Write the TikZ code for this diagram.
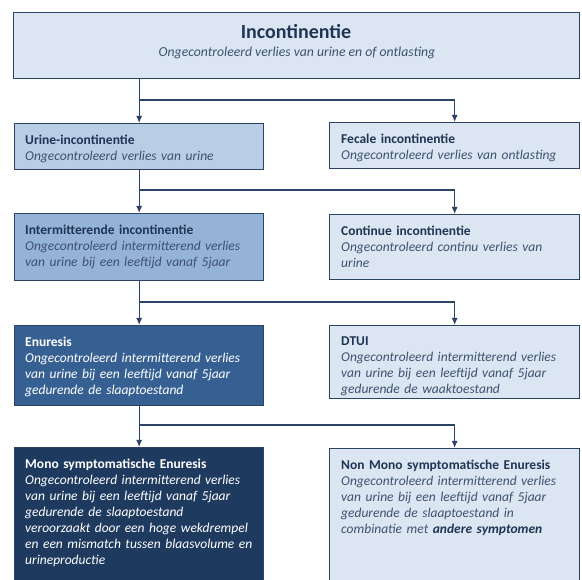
\documentclass[tikz,border=0pt]{standalone}
\usepackage{fontspec}
\setmainfont{Carlito}
\usetikzlibrary{arrows.meta}

\definecolor{boxline}{HTML}{2B4466}
\definecolor{pale}{HTML}{DCE6F2}
\definecolor{light}{HTML}{B9CDE5}
\definecolor{mid}{HTML}{95B3D7}
\definecolor{deep}{HTML}{376092}
\definecolor{night}{HTML}{1F3A5F}
\definecolor{inktitle}{HTML}{1F3555}
\definecolor{inkbody}{HTML}{3E5270}
\colorlet{headc}{inktitle}

\newcommand{\entry}[2]{{\bfseries\color{headc}#1}\\{\itshape #2}}

\tikzset{
  box/.style={draw=boxline, line width=1.3pt, anchor=north west, inner sep=0pt},
  txt/.style={anchor=north west, align=left, text width=#1, inner sep=0pt,
    text=inkbody, font=\fontsize{13.5}{16}\selectfont},
  dark txt/.style={txt=#1, text=white, execute at begin node={\colorlet{headc}{white}}},
  conn/.style={draw=boxline, line width=1.1pt, -{Latex[length=7pt,width=6pt]}},
}

\begin{document}
\begin{tikzpicture}[x=1pt,y=1pt]
  \useasboundingbox (0,0) rectangle (582,-580);

  % boxes
  \node[box, fill=pale, minimum width=566pt, minimum height=66pt] (top) at (13,-12) {};
  \node[box, fill=light, minimum width=249pt, minimum height=46pt] (urine) at (14,-123) {};
  \node[box, fill=pale, minimum width=250pt, minimum height=46pt] (fecale) at (329,-122) {};
  \node[box, fill=mid, minimum width=249pt, minimum height=67pt] (inter) at (14,-213) {};
  \node[box, fill=pale, minimum width=250pt, minimum height=65pt] (cont) at (329,-214) {};
  \node[box, fill=deep, minimum width=249pt, minimum height=80pt] (enur) at (14,-325) {};
  \node[box, fill=pale, minimum width=250pt, minimum height=73pt] (dtui) at (329,-325) {};
  \node[box, fill=night, minimum width=249pt, minimum height=140pt] (mono) at (14,-447) {};
  \node[box, fill=pale, minimum width=250pt, minimum height=140pt] (nonmono) at (329,-448) {};

  % branch heights
  \coordinate (s1) at (0,-100);
  \coordinate (s2) at (0,-190);
  \coordinate (s3) at (0,-302);
  \coordinate (s4) at (0,-425);

  \draw[conn] (top.south -| urine.north) -- (urine.north);
  \draw[conn] (s1 -| urine.north) -| (fecale.north);
  \draw[conn] (urine.south) -- (inter.north);
  \draw[conn] (s2 -| urine.north) -| (cont.north);
  \draw[conn] (inter.south) -- (enur.north);
  \draw[conn] (s3 -| urine.north) -| (dtui.north);
  \draw[conn] (enur.south) -- (mono.north);
  \draw[conn] (s4 -| urine.north) -| (nonmono.north);

  % texts
  \node[text=inktitle, font=\fontsize{20}{24}\selectfont\bfseries] (toptitle) at (296,-32) {Incontinentie};
  \node[text=inkbody, font=\fontsize{13.7}{16}\selectfont\itshape] (topsub) at (297,-53) {Ongecontroleerd verlies van urine en of ontlasting};

  \node[txt=240pt] (urinetxt) at ([shift={(11,-12)}]urine.north west)
    {\entry{Urine-incontinentie}{Ongecontroleerd verlies van urine}};
  \node[txt=236pt] (fecaletxt) at ([shift={(12,-12)}]fecale.north west)
    {\entry{Fecale incontinentie}{Ongecontroleerd verlies van ontlasting}};
  \node[txt=240pt] (intertxt) at ([shift={(11,-12)}]inter.north west)
    {\entry{Intermitterende incontinentie}{Ongecontroleerd intermitterend verlies\\van urine bij een leeftijd vanaf 5jaar}};
  \node[txt=236pt] (conttxt) at ([shift={(12,-12)}]cont.north west)
    {\entry{Continue incontinentie}{Ongecontroleerd continu verlies van\\urine}};
  \node[dark txt=240pt] (enurtxt) at ([shift={(11,-12)}]enur.north west)
    {\entry{Enuresis}{Ongecontroleerd intermitterend verlies\\van urine bij een leeftijd vanaf 5jaar\\gedurende de slaaptoestand}};
  \node[txt=236pt] (dtuitxt) at ([shift={(12,-12)}]dtui.north west)
    {\entry{DTUI}{Ongecontroleerd intermitterend verlies\\van urine bij een leeftijd vanaf 5jaar\\gedurende de waaktoestand}};
  \node[dark txt=240pt] (monotxt) at ([shift={(11,-12)}]mono.north west)
    {\entry{Mono symptomatische Enuresis}{Ongecontroleerd intermitterend verlies\\van urine bij een leeftijd vanaf 5jaar\\gedurende de slaaptoestand\\veroorzaakt door een hoge wekdrempel\\en een mismatch tussen blaasvolume en\\urineproductie}};
  \node[txt=236pt] (nonmonotxt) at ([shift={(12,-12)}]nonmono.north west)
    {\entry{Non Mono symptomatische Enuresis}{Ongecontroleerd intermitterend verlies\\van urine bij een leeftijd vanaf 5jaar\\gedurende de slaaptoestand in\\combinatie met {\bfseries\color{headc}andere symptomen}}};
\end{tikzpicture}
\end{document}
